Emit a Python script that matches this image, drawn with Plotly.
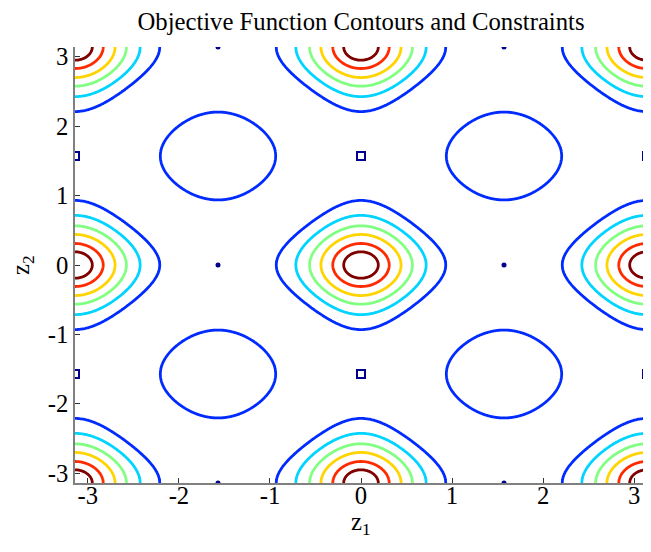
import numpy as np
import plotly.graph_objects as go

PI = np.pi

# --- chart data -------------------------------------------------------------
title_text = "Objective Function Contours and Constraints"
x_title = "z<sub>1</sub>"
y_title = "z<sub>2</sub>"
tick_values = [-3, -2, -1, 0, 1, 2, 3]
tick_labels = ["-3", "-2", "-1", "0", "1", "2", "3"]

# objective-function contour levels (outer blue -> inner dark red)
contour_levels = [0.198, 0.344, 0.465, 0.574, 0.695, 0.811]
contour_colors = ["#002bff", "#00d4ff", "#80ff80", "#ffd400", "#ff2b00", "#800000"]

# objective-function shape parameters
peak_cross = 0.45      # coupling term of the main peaks
ring_height = 0.28     # height of the secondary bumps at (+-pi/2, +-pi/2)
ring_slope = 0.234     # fall-off of the secondary bumps

# constraint points (lowest contour level, drawn in navy)
dot_z1 = [-PI / 2, PI / 2, -PI / 2, PI / 2, -PI / 2, PI / 2]
dot_z2 = [0.0, 0.0, PI, PI, -PI, -PI]
sq_z1 = [0.0, 0.0, -PI, -PI, PI, PI]
sq_z2 = [PI / 2, -PI / 2, PI / 2, -PI / 2, PI / 2, -PI / 2]
navy = "#00008c"

# --- objective surface on a grid ---------------------------------------------
grid = np.linspace(-PI, PI, 601)
Z1, Z2 = np.meshgrid(grid, grid)
p = np.sin(Z1) ** 2
q = np.sin(Z2) ** 2
peak_part = 1.0 - np.sqrt(p + q + peak_cross * p * q)
ring_part = ring_height - ring_slope * (2.0 - p - q)
F = np.maximum(peak_part, ring_part)

fig = go.Figure()
for lev, col in zip(contour_levels, contour_colors):
    fig.add_trace(go.Contour(
        x=grid, y=grid, z=F,
        autocontour=False,
        contours=dict(start=lev, end=lev, size=1.0, coloring="none"),
        line=dict(color=col, width=2.8),
        showscale=False, hoverinfo="skip", showlegend=False,
    ))

fig.add_trace(go.Scatter(
    x=dot_z1, y=dot_z2, mode="markers",
    marker=dict(symbol="circle", size=5, color=navy),
    showlegend=False, hoverinfo="skip", cliponaxis=True,
))
fig.add_trace(go.Scatter(
    x=sq_z1, y=sq_z2, mode="markers",
    marker=dict(symbol="square-open", size=8, color=navy, line=dict(width=2, color=navy)),
    showlegend=False, hoverinfo="skip", cliponaxis=True,
))

FONT = "Liberation Serif"
FS = 24.7

axis_common = dict(
    range=[-PI, PI], tickvals=tick_values, ticktext=tick_labels,
    ticks="inside", ticklen=5, tickwidth=1, tickcolor="#333333",
    showline=True, linecolor="#808080", linewidth=1.6,
    showgrid=False, zeroline=False, mirror=False, automargin=False,
    tickfont=dict(family=FONT, size=FS, color="#000000"),
)

# page body has an 8 px margin, so the figure is sized to fit inside the window
fig.update_layout(
    width=643, height=544,
    margin=dict(l=67, r=4, t=39, b=69),
    paper_bgcolor="white", plot_bgcolor="white",
    font=dict(family=FONT, size=FS, color="#000000"),
    title=dict(text=title_text, xref="paper", x=0.5, xanchor="center",
               yref="container", y=0.976, yanchor="middle",
               font=dict(family=FONT, size=FS, color="#000000")),
    xaxis=dict(axis_common, ticklabelstandoff=-10),
    yaxis=dict(axis_common),
    annotations=[
        dict(text=x_title, xref="paper", yref="paper", x=0.5, y=-0.092,
             xanchor="center", yanchor="middle", showarrow=False,
             font=dict(family=FONT, size=FS, color="#000000")),
        dict(text=y_title, xref="paper", yref="paper", x=-0.0927, y=0.5,
             xanchor="center", yanchor="middle", showarrow=False, textangle=-90,
             font=dict(family=FONT, size=FS, color="#000000")),
    ],
)

fig.write_html("out.html")
